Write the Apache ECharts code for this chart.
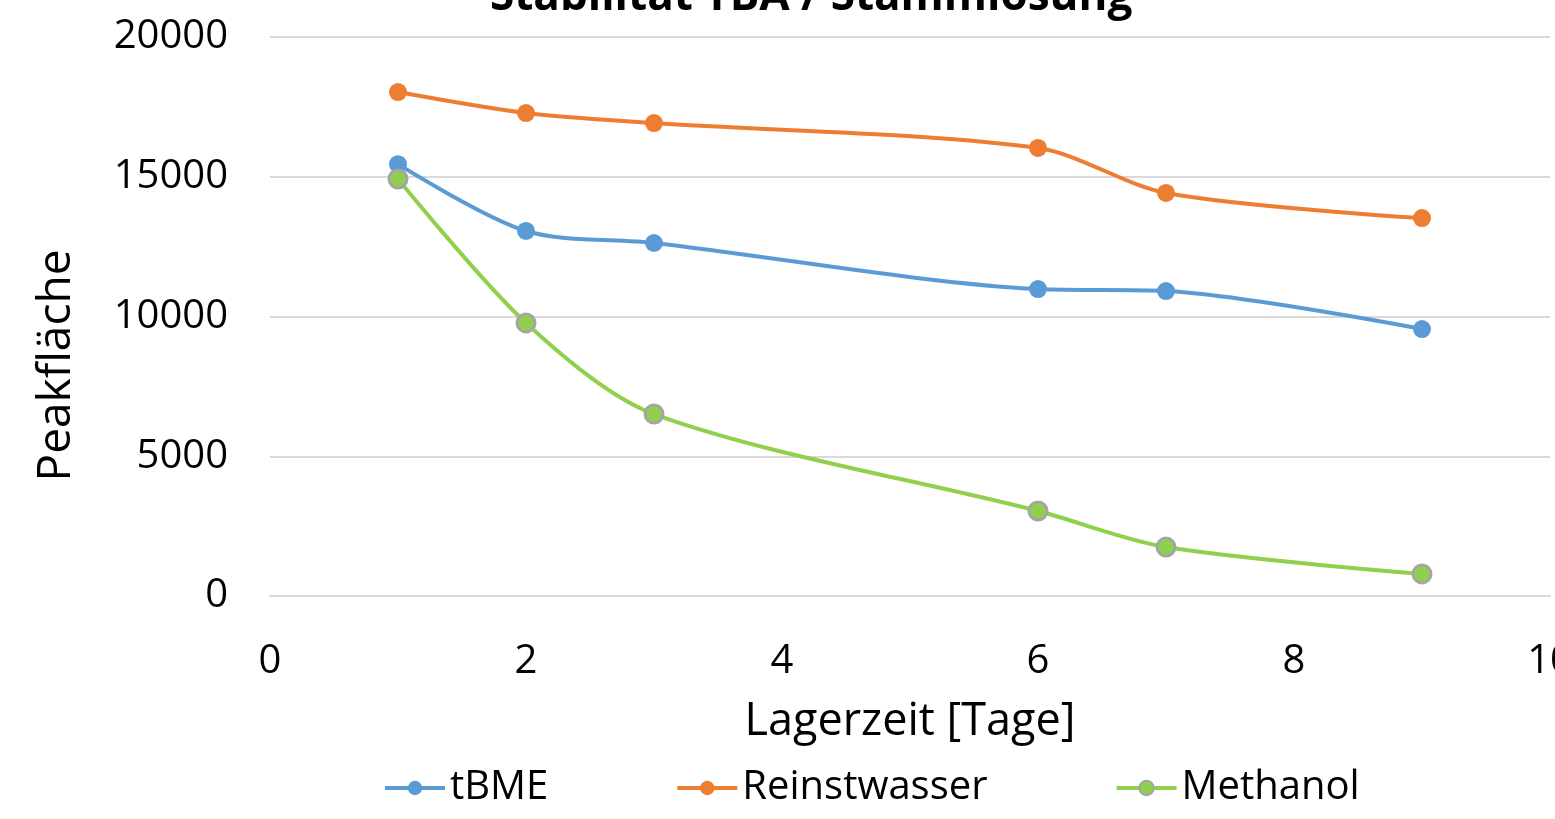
<!DOCTYPE html>
<html>
<head>
<meta charset="utf-8">
<script src="https://cdn.jsdelivr.net/npm/echarts@6/dist/echarts.min.js"></script>
<style>
  html, body { margin: 0; padding: 0; background: #fff; }
  #chart { width: 1555px; height: 819px; }
</style>
</head>
<body>
<div id="chart"></div>
<script>
// Lagerzeit in Tagen
const days = [1, 2, 3, 6, 7, 9];
const tbme = [15450, 13060, 12630, 10980, 10910, 9550];
const reinstwasser = [18030, 17280, 16920, 16030, 14420, 13520];
const methanol = [14920, 9770, 6510, 3040, 1750, 790];
const xTicks = [0, 2, 4, 6, 8, 10];
const yTicks = [0, 5000, 10000, 15000, 20000];

const font = 'Open Sans';

function pairs(vals) {
  return days.map((d, i) => [d, vals[i]]);
}

function lineSeries(name, vals, color, border) {
  return {
    name: name,
    type: 'line',
    data: pairs(vals),
    smooth: 0.3,
    symbol: 'circle',
    symbolSize: 18,
    lineStyle: { color: color, width: 4 },
    itemStyle: { color: color, borderColor: border || color, borderWidth: border ? 3 : 0 }
  };
}

const chart = echarts.init(document.getElementById('chart'));
chart.setOption({
  animation: false,
  title: {
    text: 'Stabilität TBA / Stammlösung',
    left: 485,
    top: -30,
    textStyle: { fontFamily: font, fontSize: 44, fontWeight: 'bold', color: '#000' }
  },
  grid: { left: 270, right: 5, top: 37, bottom: 223, containLabel: false, outerBoundsMode: 'none' },
  legend: {
    bottom: 6,
    left: 378,
    itemWidth: 60,
    itemHeight: 18,
    itemGap: 127,
    lineStyle: { width: 4 },
    textStyle: { fontFamily: font, fontSize: 40, color: '#000' }
  },
  xAxis: {
    type: 'value',
    min: xTicks[0],
    max: xTicks[xTicks.length - 1],
    interval: 2,
    name: 'Lagerzeit [Tage]',
    nameLocation: 'middle',
    nameGap: 104,
    nameTextStyle: { fontFamily: font, fontSize: 45, color: '#000' },
    axisLine: { show: true, lineStyle: { color: '#d9d9d9', width: 2 } },
    axisTick: { show: false },
    splitLine: { show: false },
    axisLabel: { fontFamily: font, fontSize: 40, color: '#000', margin: 46 }
  },
  yAxis: {
    type: 'value',
    min: yTicks[0],
    max: yTicks[yTicks.length - 1],
    interval: 5000,
    name: 'Peakfläche',
    nameLocation: 'middle',
    nameGap: 190,
    nameTextStyle: { fontFamily: font, fontSize: 46, color: '#000', padding: [0, 98, 0, 0] },
    axisLine: { show: false },
    axisTick: { show: false },
    splitLine: { lineStyle: { color: '#d9d9d9', width: 2 } },
    axisLabel: { fontFamily: font, fontSize: 40, color: '#000', margin: 42, formatter: v => String(v) }
  },
  series: [
    lineSeries('tBME', tbme, '#5b9bd5'),
    lineSeries('Reinstwasser', reinstwasser, '#ed7d31'),
    lineSeries('Methanol', methanol, '#8fd04c', '#a5a5a5')
  ]
});
</script>
</body>
</html>
